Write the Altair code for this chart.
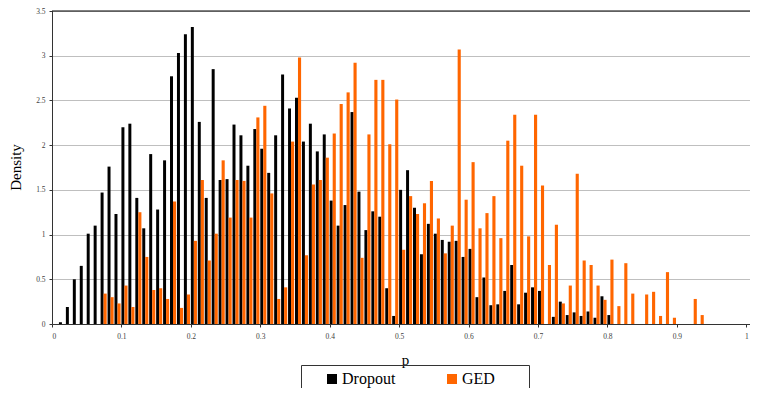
import altair as alt
import pandas as pd

# bin starts (width 0.01)
bins = [round(i / 100, 2) for i in range(100)]

dropout = [
    0.00, 0.02, 0.19, 0.50, 0.65, 1.01, 1.10, 1.47, 1.76, 1.23,
    2.20, 2.24, 1.41, 1.07, 1.90, 1.28, 1.83, 2.77, 3.03, 3.24,
    3.32, 2.26, 1.41, 2.85, 1.61, 1.62, 2.23, 2.11, 1.77, 2.18,
    1.96, 1.69, 2.11, 2.79, 2.41, 2.53, 2.04, 2.24, 1.93, 2.12,
    1.38, 1.10, 1.33, 2.37, 1.48, 1.05, 1.26, 1.20, 0.40, 0.09,
    1.50, 1.72, 1.30, 0.78, 1.12, 1.01, 0.94, 0.92, 0.93, 0.75,
    0.84, 0.30, 0.52, 0.21, 0.22, 0.37, 0.66, 0.22, 0.35, 0.41,
    0.37, 0.00, 0.08, 0.25, 0.10, 0.13, 0.09, 0.14, 0.07, 0.31,
    0.10, 0.00, 0.00, 0.00, 0.00, 0.00, 0.00, 0.00, 0.00, 0.00,
    0.00, 0.00, 0.00, 0.00, 0.00, 0.00, 0.00, 0.00, 0.00, 0.00,
]

ged = [
    0.00, 0.00, 0.00, 0.00, 0.00, 0.00, 0.00, 0.34, 0.30, 0.23,
    0.43, 0.19, 1.25, 0.75, 0.38, 0.40, 0.28, 1.37, 0.18, 0.33,
    0.93, 1.61, 0.71, 1.01, 1.83, 1.19, 1.61, 1.60, 1.19, 2.31,
    2.44, 1.46, 0.28, 0.41, 2.04, 2.98, 0.77, 1.56, 1.61, 1.86,
    2.13, 2.46, 2.59, 2.92, 0.74, 2.12, 2.73, 2.73, 2.01, 2.51,
    0.83, 1.43, 1.23, 1.35, 1.60, 1.18, 0.79, 1.10, 3.07, 1.39,
    1.81, 1.07, 1.24, 1.43, 0.96, 2.05, 2.34, 1.77, 0.98, 2.34,
    1.55, 0.66, 1.11, 0.23, 0.43, 1.68, 0.71, 0.66, 0.43, 0.27,
    0.72, 0.20, 0.68, 0.34, 0.00, 0.33, 0.36, 0.09, 0.58, 0.07,
    0.00, 0.00, 0.28, 0.10, 0.00, 0.00, 0.00, 0.00, 0.00, 0.00,
]

series_names = ["Dropout", "GED"]
series_colors = ["#000000", "#FF6600"]
x_ticks = [round(i / 10, 1) for i in range(11)]
y_ticks = [i / 2 for i in range(8)]

rows = []
for p, d, g in zip(bins, dropout, ged):
    rows.append({"p": p, "series": "Dropout", "density": d})
    rows.append({"p": p, "series": "GED", "density": g})
df = pd.DataFrame(rows)

FONT = "Liberation Serif, Times New Roman, serif"

bars = (
    alt.Chart(df)
    .transform_filter("datum.density > 0")
    .transform_calculate(
        x0="datum.p + (datum.series == 'Dropout' ? 0 : 0.0043)",
        x1="datum.p + (datum.series == 'Dropout' ? 0.0043 : 0.0088)",
    )
    .mark_bar()
    .encode(
        x=alt.X(
            "x0:Q",
            scale=alt.Scale(domain=[0, 1.0054], nice=False, zero=False),
            axis=alt.Axis(
                values=x_ticks,
                format="~g",
                grid=False,
                title="p",
                titleFont=FONT,
                titleX=353,
                titleY=40,
                titleBaseline="alphabetic",
                titleFontSize=15,
                labelFont=FONT,
                labelFontSize=7.5,
                labelPadding=5,
                tickSize=3,
            ),
        ),
        x2="x1:Q",
        y=alt.Y(
            "density:Q",
            scale=alt.Scale(domain=[0, 3.5], nice=False),
            axis=alt.Axis(
                values=y_ticks,
                format="~g",
                grid=True,
                gridColor="#BFBFBF",
                title="Density",
                titleFont=FONT,
                titleX=-36.5,
                titleY=156,
                titleAngle=-90,
                titleAlign="center",
                titleBaseline="middle",
                titleFontSize=15,
                labelFont=FONT,
                labelFontSize=7.5,
                labelPadding=4,
                tickSize=3,
            ),
        ),
        y2=alt.datum(0),
        color=alt.Color(
            "series:N",
            scale=alt.Scale(domain=series_names, range=series_colors),
            legend=alt.Legend(
                title=None,
                orient="none",
                legendX=249,
                legendY=354,
                direction="horizontal",
                symbolType="square",
                symbolSize=100,
                symbolStrokeWidth=0,
                symbolOffset=17,
                labelFont=FONT,
                labelFontSize=16,
                labelColor="#000000",
                labelOffset=2,
                columnPadding=31,
                padding=6,
                strokeColor="#333333",
                labelExpr="datum.label == 'GED' ? 'GED\u00a0\u00a0\u00a0\u00a0\u2800' : datum.label",
            ),
        ),
    )
)

top_line = (
    alt.Chart(pd.DataFrame({"top": [3.5]}))
    .mark_rule(color="#000000", strokeWidth=1)
    .encode(y=alt.Y("top:Q"))
)

chart = (
    alt.layer(bars, top_line)
    .properties(
        width=698,
        height=313,
        padding={"left": 44, "top": 3, "right": 0, "bottom": 64},
        autosize=alt.AutoSizeParams(type="none"),
    )
    .configure_view(stroke=None)
    .configure_axis(
        titleFontWeight="normal",
        titleColor="#000000",
        labelColor="#404040",
        domainColor="#333333",
        tickColor="#333333",
    )
)

chart.save("out.html", embed_options={"renderer": "svg", "actions": False})
